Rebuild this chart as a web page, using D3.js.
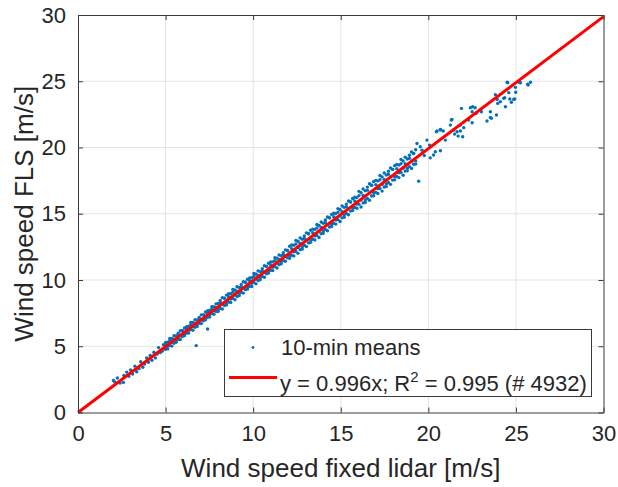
<!DOCTYPE html>
<html lang="en">
	<head>
		<meta charset="utf-8">
		<title>Wind speed FLS vs fixed lidar</title>
		<script type="text/javascript" src="https://cdn.jsdelivr.net/npm/d3@7"></script>
		<style type="text/css">
			body { margin: 0; background: #fff; }
			text { font-family: "Liberation Sans", Arial, sans-serif; fill: #262626; }
		</style>
	</head>
	<body>
		<script type="text/javascript">
			//Width and height
			var w = 618;
			var h = 487;
			var margin = {left: 78, right: 14.5, top: 15, bottom: 74.5};

			var ticks = [0, 5, 10, 15, 20, 25, 30];
			var slope = 0.996;
			var legendLabels = ["10-min means", "y = 0.996x; R", "2", " = 0.995 (# 4932)"];

			//Sparse points, low wind
			var lowWind = [
				[2.02, 2.42], [2.10, 2.31], [2.25, 2.60], [2.40, 2.22], [2.59, 2.27], [2.62, 2.80],
				[2.78, 3.05], [2.90, 2.74], [3.00, 3.22], [3.12, 2.90], [3.25, 3.50], [3.35, 3.08],
				[3.48, 3.31], [3.58, 3.83], [3.70, 3.42], [3.80, 3.66], [3.92, 4.12], [4.02, 3.79],
				[4.12, 4.30], [4.22, 3.94], [4.33, 4.55], [4.42, 4.12], [4.52, 4.42], [4.60, 4.90],
				[4.70, 4.52], [4.80, 4.62], [4.88, 5.12], [4.95, 4.78]
			];

			//Dense band: [fixed lidar, FLS, FLS, FLS]
			var bandRows = [
				[5.00, 5.28, 4.79, 5.11], [5.12, 5.31, 4.80, 5.00], [5.24, 5.59, 5.06, 5.42], [5.36, 5.59, 5.01, 5.29],
				[5.48, 5.80, 5.23, 5.53], [5.60, 5.78, 5.30, 5.41], [5.72, 5.98, 5.53, 5.86], [5.84, 6.17, 5.51, 5.80],
				[5.96, 6.17, 5.73, 6.17], [6.08, 6.38, 5.80, 5.92], [6.20, 6.48, 5.99, 6.31], [6.32, 6.51, 6.00, 6.20],
				[6.44, 6.79, 6.26, 6.62], [6.56, 6.79, 6.21, 6.49], [6.68, 7.00, 6.43, 6.73], [6.80, 6.98, 6.50, 6.61],
				[6.92, 7.18, 6.73, 7.06], [7.04, 7.37, 6.71, 7.00], [7.16, 7.37, 6.93, 7.37], [7.28, 7.58, 7.00, 7.12],
				[7.40, 7.68, 7.19, 7.51], [7.52, 7.71, 7.20, 7.40], [7.64, 7.99, 7.46, 7.82], [7.76, 7.99, 7.41, 7.69],
				[7.88, 8.20, 7.63, 7.93], [8.00, 8.23, 7.62, 7.75], [8.12, 8.46, 7.87, 8.30], [8.24, 8.67, 7.81, 8.19],
				[8.36, 8.63, 8.07, 8.63], [8.48, 8.86, 8.12, 8.28], [8.60, 8.96, 8.33, 8.74], [8.72, 8.97, 8.31, 8.56],
				[8.84, 9.29, 8.61, 9.07], [8.96, 9.25, 8.51, 8.87], [9.08, 9.49, 8.76, 9.15], [9.20, 9.43, 8.82, 8.95],
				[9.32, 9.66, 9.07, 9.50], [9.44, 9.87, 9.01, 9.39], [9.56, 9.83, 9.27, 9.83], [9.68, 10.06, 9.32, 9.48],
				[9.80, 10.16, 9.53, 9.94], [9.92, 10.17, 9.51, 9.76], [10.04, 10.49, 9.81, 10.27], [10.16, 10.45, 9.71, 10.07],
				[10.28, 10.69, 9.96, 10.35], [10.40, 10.63, 10.02, 10.15], [10.52, 10.86, 10.27, 10.70], [10.64, 11.07, 10.21, 10.59],
				[10.76, 11.03, 10.47, 11.03], [10.88, 11.26, 10.52, 10.68], [11.00, 11.36, 10.73, 11.14], [11.12, 11.37, 10.71, 10.96],
				[11.24, 11.69, 11.01, 11.47], [11.36, 11.65, 10.91, 11.27], [11.48, 11.89, 11.16, 11.55], [11.60, 11.83, 11.22, 11.35],
				[11.72, 12.06, 11.47, 11.90], [11.84, 12.27, 11.41, 11.79], [11.96, 12.23, 11.67, 12.23], [12.08, 12.55, 11.64, 11.83],
				[12.20, 12.64, 11.87, 12.37], [12.32, 12.62, 11.82, 12.13], [12.44, 12.99, 12.16, 12.72], [12.56, 12.92, 12.01, 12.45],
				[12.68, 13.18, 12.29, 12.76], [12.80, 13.08, 12.33, 12.50], [12.92, 13.33, 12.62, 13.14], [13.04, 13.56, 12.52, 12.98],
				[13.16, 13.49, 12.80, 13.49], [13.28, 13.75, 12.84, 13.03], [13.40, 13.84, 13.07, 13.57], [13.52, 13.82, 13.02, 13.33],
				[13.64, 14.19, 13.36, 13.92], [13.76, 14.12, 13.21, 13.65], [13.88, 14.38, 13.49, 13.96], [14.00, 14.28, 13.53, 13.70],
				[14.12, 14.53, 13.82, 14.34], [14.24, 14.76, 13.72, 14.18], [14.36, 14.69, 14.00, 14.69], [14.48, 14.95, 14.04, 14.23],
				[14.60, 15.04, 14.27, 14.77], [14.72, 15.02, 14.22, 14.53], [14.84, 15.39, 14.56, 15.12], [14.96, 15.32, 14.41, 14.85],
				[15.08, 15.58, 14.69, 15.16], [15.20, 15.48, 14.73, 14.90], [15.32, 15.73, 15.02, 15.54], [15.44, 15.96, 14.92, 15.38],
				[15.56, 15.89, 15.20, 15.89], [15.68, 16.15, 15.24, 15.43], [15.80, 16.24, 15.47, 15.97], [15.92, 16.22, 15.42, 15.73],
				[16.04, 16.69, 15.71, 16.37], [16.16, 16.58, 15.51, 16.03], [16.28, 16.87, 15.82, 16.38], [16.40, 16.73, 15.85, 16.04],
				[16.52, 17.01, 16.16, 16.78], [16.64, 17.26, 16.02, 16.57], [16.76, 17.15, 16.34, 17.15], [16.88, 17.43, 16.36, 16.59],
				[17.00, 17.52, 16.61, 17.20], [17.12, 17.48, 16.53, 16.89], [17.24, 17.89, 16.91, 17.57], [17.36, 17.78, 16.71, 17.23],
				[17.48, 18.07, 17.02, 17.58], [17.60, 17.93, 17.05, 17.24], [17.72, 18.21, 17.36, 17.98], [17.84, 18.46, 17.22, 17.77],
				[17.96, 18.35, 17.54, 18.35], [18.08, 18.63, 17.56, 17.79], [18.20, 18.72, 17.81, 18.40], [18.32, 18.68, 17.73, 18.09],
				[18.44, 19.09, 18.11, 18.77], [18.56, 18.98, 17.91, 18.43], [18.68, 19.27, 18.22, 18.78], [18.80, 19.13, 18.25, 18.44],
				[18.92, 19.41, 18.56, 19.18], [19.04, 19.66, 18.42, 18.97], [19.16, 19.55, 18.74, 19.55], [19.28, 19.83, 18.76, 18.99]
			];

			//Sparse points, high wind and outliers
			var highWind = [
				[6.75, 5.05], [7.40, 6.30], [19.45, 17.46],
				[19.35, 20.30], [19.54, 20.06], [19.64, 19.80], [19.77, 19.40], [19.92, 20.56], [20.07, 20.18],
				[20.11, 19.22], [20.30, 19.43], [20.40, 19.68], [20.46, 21.19], [20.50, 21.25], [20.69, 21.32],
				[20.69, 19.75], [20.69, 21.37], [20.85, 21.24], [20.97, 20.56], [21.26, 21.69], [21.31, 22.07],
				[21.35, 22.12], [21.45, 21.32], [21.50, 21.01], [21.64, 21.19], [21.70, 20.86], [21.83, 21.24],
				[21.83, 21.69], [21.89, 22.95], [21.96, 20.81], [22.02, 21.50], [22.30, 22.07], [22.40, 23.00],
				[22.50, 22.70], [22.50, 21.87], [22.53, 23.08], [22.67, 23.00], [22.73, 22.58], [23.03, 22.70],
				[23.35, 22.00], [23.54, 22.70], [23.54, 22.27], [23.60, 22.20], [23.83, 23.99], [23.89, 22.45],
				[23.93, 23.63], [23.96, 23.33], [24.11, 23.46], [24.30, 23.71], [24.36, 23.76], [24.40, 23.08],
				[24.50, 24.92], [24.53, 24.89], [24.59, 24.14], [24.65, 23.66], [24.74, 23.41], [24.87, 23.63],
				[24.93, 23.66], [24.97, 24.54], [24.99, 24.17], [25.20, 24.90], [25.26, 24.89], [25.67, 24.77],
				[25.70, 24.72], [25.83, 24.92]
			];

			//Build the point table from the arrays above
			var points = lowWind.slice();
			bandRows.forEach(function(r) {
				for (var k = 1; k < r.length; k++) {
					points.push([r[0], r[k]]);
				}
			});
			points = points.concat(highWind);

			var xScale = d3.scaleLinear()
							.domain([0, 30])
							.range([margin.left, w - margin.right]);

			var yScale = d3.scaleLinear()
							.domain([0, 30])
							.range([h - margin.bottom, margin.top]);

			//Create SVG element
			var svg = d3.select("body")
						.append("svg")
						.attr("width", w)
						.attr("height", h);

			//Grid
			svg.append("g")
			   .selectAll("line.gx")
			   .data(ticks.slice(1, -1))
			   .enter()
			   .append("line")
			   .attr("x1", function(d) { return xScale(d); })
			   .attr("x2", function(d) { return xScale(d); })
			   .attr("y1", yScale(0))
			   .attr("y2", yScale(30))
			   .attr("stroke", "#e3e3e3")
			   .attr("stroke-width", 1);

			svg.append("g")
			   .selectAll("line.gy")
			   .data(ticks.slice(1, -1))
			   .enter()
			   .append("line")
			   .attr("y1", function(d) { return yScale(d); })
			   .attr("y2", function(d) { return yScale(d); })
			   .attr("x1", xScale(0))
			   .attr("x2", xScale(30))
			   .attr("stroke", "#e3e3e3")
			   .attr("stroke-width", 1);

			//Scatter
			svg.append("g")
			   .selectAll("circle")
			   .data(points)
			   .enter()
			   .append("circle")
			   .attr("cx", function(d) { return xScale(d[0]); })
			   .attr("cy", function(d) { return yScale(d[1]); })
			   .attr("r", 1.7)
			   .attr("fill", "#0072BD");

			//Fit line
			svg.append("line")
			   .attr("x1", xScale(0))
			   .attr("y1", yScale(0))
			   .attr("x2", xScale(30))
			   .attr("y2", yScale(30 * slope))
			   .attr("stroke", "#ff0000")
			   .attr("stroke-width", 3);

			//Axes (ticks inside, box on)
			var xAxis = d3.axisBottom(xScale).tickValues(ticks).tickSizeInner(-5).tickSizeOuter(0).tickPadding(13);
			var yAxis = d3.axisLeft(yScale).tickValues(ticks).tickSizeInner(-5).tickSizeOuter(0).tickPadding(12);

			var gx = svg.append("g")
			   .attr("transform", "translate(0," + yScale(0) + ")")
			   .call(xAxis);
			var gy = svg.append("g")
			   .attr("transform", "translate(" + xScale(0) + ",0)")
			   .call(yAxis);
			svg.append("g")
			   .attr("transform", "translate(0," + yScale(30) + ")")
			   .call(d3.axisTop(xScale).tickValues(ticks).tickSizeInner(-5).tickSizeOuter(0).tickFormat(""));
			svg.append("g")
			   .attr("transform", "translate(" + xScale(30) + ",0)")
			   .call(d3.axisRight(yScale).tickValues(ticks).tickSizeInner(-5).tickSizeOuter(0).tickFormat(""));

			svg.selectAll(".domain, .tick line")
			   .attr("stroke", "#3a3a3a");
			svg.selectAll(".tick text")
			   .attr("font-family", "Liberation Sans, Arial, sans-serif")
			   .attr("font-size", "22px")
			   .attr("fill", "#262626");

			//Axis titles
			svg.append("text")
			   .attr("x", (xScale(0) + xScale(30)) / 2)
			   .attr("y", 477)
			   .attr("text-anchor", "middle")
			   .attr("font-size", "26px")
			   .text("Wind speed fixed lidar [m/s]");

			svg.append("text")
			   .attr("transform", "translate(33," + (yScale(0) + yScale(30)) / 2 + ") rotate(-90)")
			   .attr("text-anchor", "middle")
			   .attr("font-size", "26px")
			   .text("Wind speed FLS [m/s]");

			//Legend
			var legend = svg.append("g");
			legend.append("rect")
			   .attr("x", 224.5)
			   .attr("y", 329.5)
			   .attr("width", 367)
			   .attr("height", 67)
			   .attr("fill", "#fff")
			   .attr("stroke", "#3a3a3a")
			   .attr("stroke-width", 1);
			legend.append("circle")
			   .attr("cx", 253)
			   .attr("cy", 347.5)
			   .attr("r", 1.4)
			   .attr("fill", "#0072BD");
			legend.append("text")
			   .attr("x", 281)
			   .attr("y", 355)
			   .attr("font-size", "22px")
			   .text(legendLabels[0]);
			legend.append("line")
			   .attr("x1", 229)
			   .attr("x2", 277)
			   .attr("y1", 377.5)
			   .attr("y2", 377.5)
			   .attr("stroke", "#ff0000")
			   .attr("stroke-width", 3);
			var fitText = legend.append("text")
			   .attr("x", 280)
			   .attr("y", 391)
			   .attr("font-size", "22px");
			fitText.append("tspan").text(legendLabels[1]);
			fitText.append("tspan").attr("dy", -9).attr("font-size", "15px").text(legendLabels[2]);
			fitText.append("tspan").attr("dy", 9).text(legendLabels[3]);
		</script>
	</body>
</html>
